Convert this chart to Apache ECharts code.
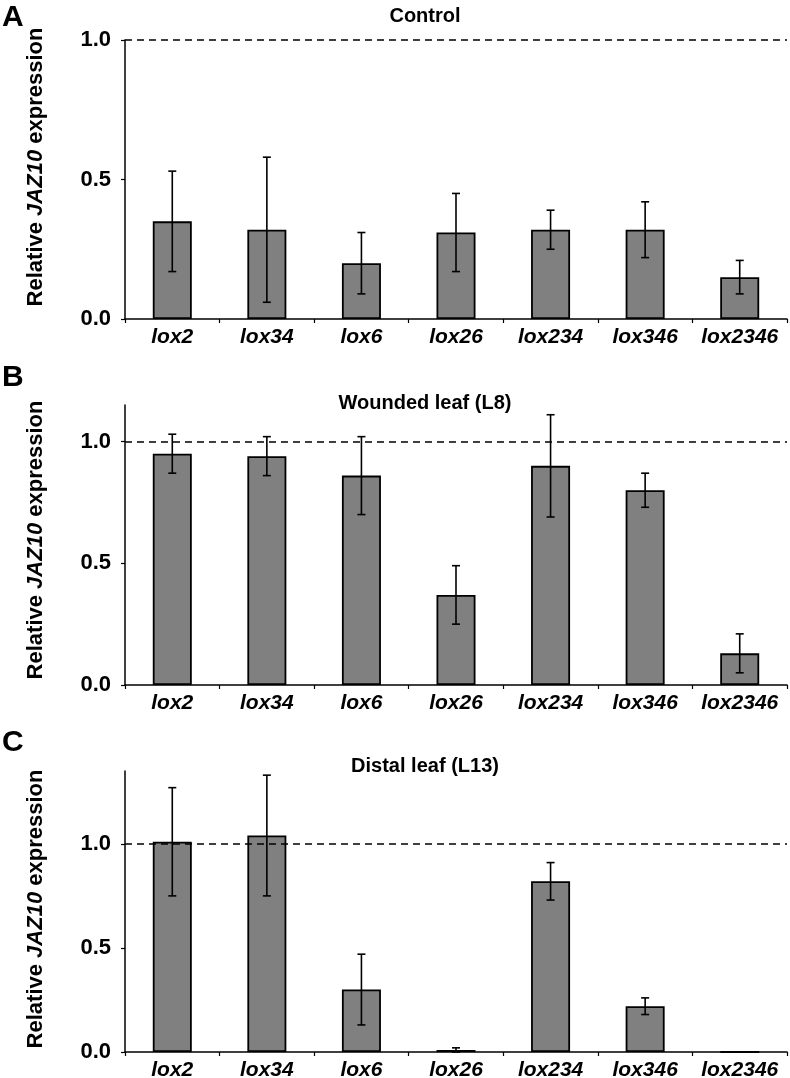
<!DOCTYPE html>
<html>
<head>
<meta charset="utf-8">
<script src="https://cdn.jsdelivr.net/npm/echarts@6/dist/echarts.min.js"></script>
<style>html,body{margin:0;padding:0;background:#fff}#c{width:790px;height:1078px}</style>
</head>
<body>
<div id="c"></div>
<script>
const categories = ['lox2','lox34','lox6','lox26','lox234','lox346','lox2346'];
const controlMean = [0.35,0.32,0.20,0.31,0.32,0.32,0.15];
const controlErr  = [0.18,0.26,0.11,0.14,0.07,0.10,0.06];
const woundedMean = [0.95,0.94,0.86,0.37,0.90,0.80,0.13];
const woundedErr  = [0.08,0.08,0.16,0.12,0.21,0.07,0.08];
const distalMean  = [1.01,1.04,0.30,0.01,0.82,0.22,0];
const distalErr   = [0.26,0.29,0.17,0.01,0.09,0.04,0];
const yTicks = [0, 0.5, 1.0];
const panelTitles = ['Control','Wounded leaf (L8)','Distal leaf (L13)'];
const panelLetters = ['A','B','C'];
const yMax = [1.0, 1.15, 1.35];

const FONT = '"Liberation Sans", Arial, Helvetica, sans-serif';
const panels = [
  {mean: controlMean, err: controlErr, top: 40, height: 279, titleY: 16, letterY: 18, nameY: 167},
  {mean: woundedMean, err: woundedErr, top: 405, height: 280, titleY: 403, letterY: 378, nameY: 540},
  {mean: distalMean, err: distalErr, top: 771, height: 281, titleY: 766, letterY: 743, nameY: 909}
];

const grid = [], xAxis = [], yAxis = [], series = [], graphic = [];
panels.forEach((p, i) => {
  grid.push({left: 125, right: 3, top: p.top, height: p.height, containLabel: false, outerBoundsMode: 'none'});
  xAxis.push({
    type: 'category', gridIndex: i, data: categories,
    axisLine: {lineStyle: {color: '#000', width: 1.5}},
    axisTick: {show: true, length: 4, lineStyle: {color: '#000', width: 1.2}},
    axisLabel: {color: '#000', fontFamily: FONT, fontWeight: 'bold', fontStyle: 'italic', fontSize: 21,
      margin: 8, interval: 0, hideOverlap: false}
  });
  yAxis.push({
    type: 'value', gridIndex: i, min: 0, max: yMax[i], interval: 0.5,
    splitLine: {show: false},
    axisLine: {show: true, lineStyle: {color: '#000', width: 1.5}},
    axisTick: {show: true, length: 4, customValues: yTicks, lineStyle: {color: '#000', width: 1.2}},
    axisLabel: {color: '#000', fontFamily: FONT, fontWeight: 'bold', fontSize: 22, margin: 14,
      customValues: yTicks, formatter: v => v.toFixed(1)}
  });
  series.push({
    type: 'bar', xAxisIndex: i, yAxisIndex: i, data: p.mean, barWidth: 39,
    itemStyle: {color: '#808080', borderColor: '#000', borderWidth: 1.8},
    silent: true,
    markLine: {
      silent: true, symbol: 'none', label: {show: false},
      lineStyle: {color: '#000', type: [7, 5], width: 1.5},
      data: [{yAxis: 1.0}]
    },
    z: 2
  });
  const errData = p.mean.map((m, k) => [k, m, p.err[k]]);
  series.push({
    type: 'custom', xAxisIndex: i, yAxisIndex: i, data: errData, z: 5, silent: true,
    renderItem: function (params, api) {
      const idx = api.value(0), m = api.value(1), e = api.value(2);
      if (!e) return null;
      const hi = api.coord([idx, m + e]);
      const lo = api.coord([idx, Math.max(0, m - e)]);
      const cw = 4;
      const st = {stroke: '#000', lineWidth: 1.6};
      return {type: 'group', children: [
        {type: 'line', shape: {x1: hi[0], y1: hi[1], x2: lo[0], y2: lo[1]}, style: st},
        {type: 'line', shape: {x1: hi[0]-cw, y1: hi[1], x2: hi[0]+cw, y2: hi[1]}, style: st},
        {type: 'line', shape: {x1: lo[0]-cw, y1: lo[1], x2: lo[0]+cw, y2: lo[1]}, style: st}
      ]};
    }
  });
  graphic.push({type: 'text', x: 2, y: p.letterY, style: {text: panelLetters[i], fill: '#000',
    font: 'bold 30px ' + FONT, verticalAlign: 'middle', align: 'left'}});
  graphic.push({type: 'text', x: 425, y: p.titleY, style: {text: panelTitles[i], fill: '#000',
    font: 'bold 20px ' + FONT, verticalAlign: 'middle', align: 'center'}});
  graphic.push({type: 'text', x: 36, y: p.nameY, rotation: Math.PI / 2, style: {
    text: '{a|Relative }{b|JAZ10}{a| expression}',
    align: 'center', verticalAlign: 'middle',
    rich: {
      a: {fontFamily: FONT, fontWeight: 'bold', fontSize: 22, fill: '#000'},
      b: {fontFamily: FONT, fontWeight: 'bold', fontStyle: 'italic', fontSize: 22, fill: '#000'}
    }
  }});
});

const chart = echarts.init(document.getElementById('c'), null, {renderer: 'canvas'});
chart.setOption({animation: false, backgroundColor: '#fff', grid, xAxis, yAxis, series, graphic});
</script>
</body>
</html>
